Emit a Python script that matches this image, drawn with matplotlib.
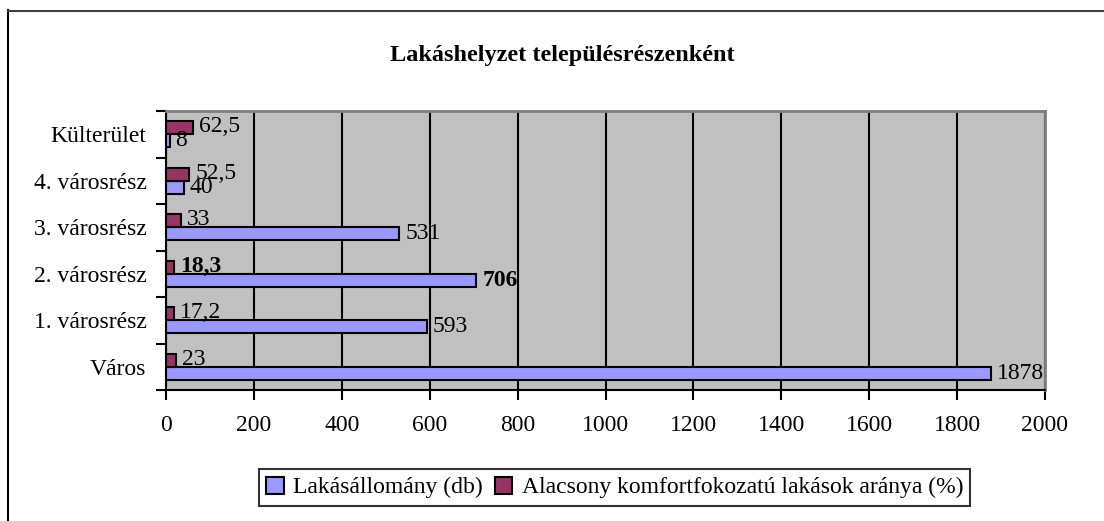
import matplotlib
matplotlib.use("Agg")
import matplotlib.pyplot as plt
from matplotlib.patches import Patch
from matplotlib.lines import Line2D
import numpy as np

categories = ["Város", "1. városrész", "2. városrész", "3. városrész", "4. városrész", "Külterület"]
lakasallomany = [1878, 593, 706, 531, 40, 8]
alacsony = [23, 17.2, 18.3, 33, 52.5, 62.5]
lak_labels = ["1878", "593", "706", "531", "40", "8"]
ala_labels = ["23", "17,2", "18,3", "33", "52,5", "62,5"]
bold_index = 2
xticks = [0, 200, 400, 600, 800, 1000, 1200, 1400, 1600, 1800, 2000]
title = "Lakáshelyzet településrészenként"
series_names = ["Lakásállomány (db)", "Alacsony komfortfokozatú lakások aránya (%)"]

plt.rcParams['font.family'] = ['Liberation Serif', 'DejaVu Serif']

W, H = 1104, 521
fig = plt.figure(figsize=(W / 100, H / 100), dpi=100)
fig.patch.set_facecolor('white')

left, right, top, bottom = 166, 1045, 111, 390
ax = fig.add_axes([left / W, 1 - bottom / H, (right - left) / W, (bottom - top) / H])
ax.set_facecolor('#C0C0C0')

y = np.arange(len(categories))
h = 0.28
blue = '#9999FF'
maroon = '#993366'
ax.barh(y - h / 2, lakasallomany, height=h, color=blue, edgecolor='black', linewidth=1.5, zorder=3)
ax.barh(y + h / 2, alacsony, height=h, color=maroon, edgecolor='black', linewidth=1.5, zorder=3)

fs = 17
for i in range(len(categories)):
    fw = 'bold' if i == bold_index else 'normal'
    ax.annotate(lak_labels[i], xy=(lakasallomany[i], y[i] - h / 2), xytext=(6, 0),
                textcoords='offset pixels', ha='left', va='center', fontsize=fs,
                fontweight=fw, zorder=5)
    ax.annotate(ala_labels[i], xy=(alacsony[i], y[i] + h / 2), xytext=(6, 1),
                textcoords='offset pixels', ha='left', va='center', fontsize=fs,
                fontweight=fw, zorder=5)

ax.set_xlim(0, 2000)
ax.set_ylim(-0.5, len(categories) - 0.5)
ax.set_xticks(xticks)
ax.set_xticklabels([str(v) for v in xticks], fontsize=fs)
ax.xaxis.grid(True, color='black', linewidth=1.5, zorder=1)
ax.set_axisbelow(True)

ax.set_yticks(np.arange(-0.5, len(categories), 1.0))
ax.set_yticklabels([])
ax.set_yticks(y, minor=True)
ax.set_yticklabels(categories, minor=True, fontsize=fs)
ax.tick_params(axis='y', which='minor', length=0, pad=14)
ax.tick_params(axis='y', which='major', direction='out', length=7, width=1.5)
ax.tick_params(axis='x', direction='out', length=7, width=1.5, pad=11)

for s in ['left', 'bottom']:
    ax.spines[s].set_color('black')
    ax.spines[s].set_linewidth(1.5)
for s in ['top', 'right']:
    ax.spines[s].set_color('#808080')
    ax.spines[s].set_linewidth(2)

fig.text(562 / W, 1 - 55 / H, title, ha='center', va='center', fontsize=17.5, fontweight='bold')

# outer chart border (left and top edges visible)
fig.add_artist(Line2D([7.5 / W, 7.5 / W], [0, 1 - 10 / H], color='black', linewidth=1.5, transform=fig.transFigure))
fig.add_artist(Line2D([7.5 / W, 1], [1 - 10.5 / H, 1 - 10.5 / H], color='#404040', linewidth=1.5, transform=fig.transFigure))

handles = [Patch(facecolor=blue, edgecolor='black', linewidth=1.5),
           Patch(facecolor=maroon, edgecolor='black', linewidth=1.5)]
leg = fig.legend(handles, series_names, loc='center', bbox_to_anchor=(614.5 / W, 1 - 487.5 / H),
                 ncol=2, fontsize=fs, frameon=True, fancybox=False, edgecolor='black',
                 handlelength=0.75, handleheight=0.75, handletextpad=0.4, columnspacing=0.5,
                 borderpad=0.3, borderaxespad=0)
leg.get_frame().set_linewidth(1.5)

fig.savefig('out.png', dpi=100, facecolor='white')
